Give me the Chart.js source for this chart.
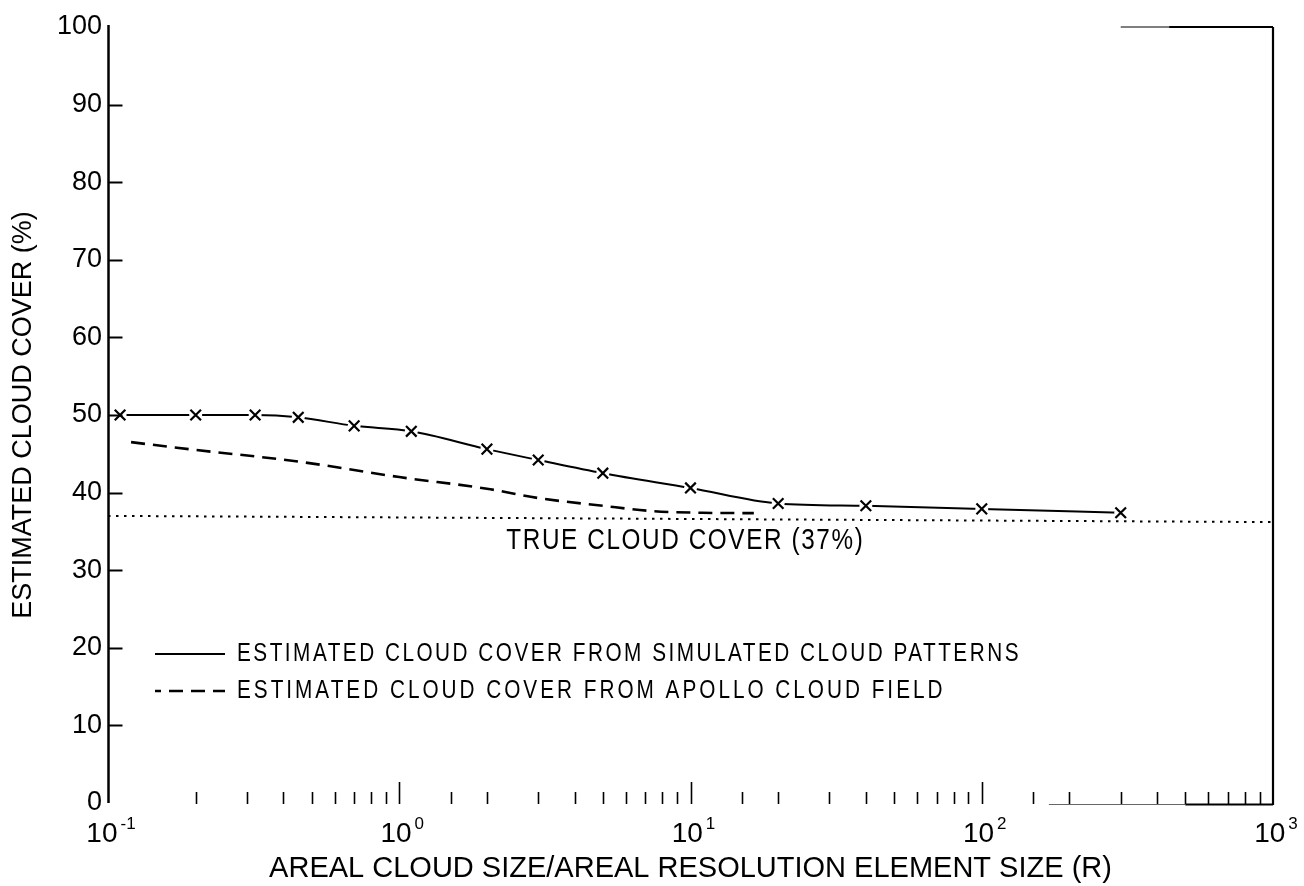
<!DOCTYPE html>
<html>
<head>
<meta charset="utf-8">
<script src="https://cdn.jsdelivr.net/npm/chart.js@4.4.1/dist/chart.umd.min.js"></script>
<style>
html,body{margin:0;padding:0;background:#fff;}
canvas{display:block;}
</style>
</head>
<body>
<canvas id="c" width="1304" height="886"></canvas>
<script>
// ---- data ----
const simX = [0.11, 0.2, 0.32, 0.45, 0.7, 1.1, 2, 3, 5, 10, 20, 40, 100, 300];
const simY = [50.0, 50.0, 50.0, 49.7, 48.6, 47.9, 45.6, 44.2, 42.5, 40.6, 38.6, 38.3, 37.9, 37.4];

const apolloX = [0.12, 0.2, 0.45, 1.0, 2.0, 3.0, 5.0, 7.5, 11, 16.5];
const apolloY = [46.5, 45.5, 44.0, 42.0, 40.5, 39.3, 38.3, 37.6, 37.4, 37.35];

const trueX = [0.1, 1000];
const trueY = [37.0, 36.2];

const xTickValues = [0.1, 1, 10, 100, 1000];
const xTickBase = '10';
const xTickExponents = ['-1', '0', '1', '2', '3'];

const simLabel = 'ESTIMATED CLOUD COVER FROM SIMULATED CLOUD PATTERNS';
const apolloLabel = 'ESTIMATED CLOUD COVER FROM APOLLO CLOUD FIELD';
const trueLabel = 'TRUE CLOUD COVER (37%)';
const xTitle = 'AREAL CLOUD SIZE/AREAL RESOLUTION ELEMENT SIZE (R)';
const yTitle = 'ESTIMATED CLOUD COVER (%)';

const FONT = "'Liberation Sans', Arial, Helvetica, sans-serif";

const pts = (xs, ys) => xs.map((x, i) => ({x: x, y: ys[i]}));

function fitText(ctx, text, x, y, width, size, spacing, fixedScale) {
  ctx.save();
  ctx.font = size + 'px ' + FONT;
  if ('letterSpacing' in ctx) ctx.letterSpacing = spacing + 'px';
  const w = ctx.measureText(text).width;
  const s = fixedScale || (width / w);
  ctx.translate(x, y);
  ctx.scale(s, 1);
  ctx.fillStyle = '#000';
  ctx.textAlign = 'left';
  ctx.textBaseline = 'middle';
  ctx.fillText(text, 0, 0);
  ctx.restore();
  return s;
}

const decor = {
  id: 'decor',
  afterDatasetsDraw(chart) {
    const ctx = chart.ctx;
    const xs = chart.scales.x, ys = chart.scales.y;
    const a = chart.chartArea;
    const L = a.left + 0.5, R = a.right, T = a.top, B = a.bottom;
    ctx.save();
    ctx.strokeStyle = '#000';
    ctx.lineCap = 'butt';

    // left axis
    ctx.lineWidth = 2.5;
    ctx.beginPath(); ctx.moveTo(L, ys.getPixelForValue(100) - 2); ctx.lineTo(L, B); ctx.stroke();
    // right axis
    ctx.lineWidth = 2.2;
    ctx.beginPath(); ctx.moveTo(R, T); ctx.lineTo(R, B + 2); ctx.stroke();
    // top partial border
    ctx.lineWidth = 1.3; ctx.strokeStyle = '#555';
    ctx.beginPath(); ctx.moveTo(xs.getPixelForValue(300), T); ctx.lineTo(xs.getPixelForValue(440), T); ctx.stroke();
    ctx.lineWidth = 2; ctx.strokeStyle = '#000';
    ctx.beginPath(); ctx.moveTo(xs.getPixelForValue(440), T); ctx.lineTo(R, T); ctx.stroke();
    // bottom partial border
    ctx.lineWidth = 1.2; ctx.strokeStyle = '#666';
    ctx.beginPath(); ctx.moveTo(xs.getPixelForValue(170), B + 1.5); ctx.lineTo(xs.getPixelForValue(500), B + 1.5); ctx.stroke();
    ctx.lineWidth = 1.8; ctx.strokeStyle = '#000';
    ctx.beginPath(); ctx.moveTo(xs.getPixelForValue(500), B + 1.5); ctx.lineTo(R, B + 1.5); ctx.stroke();

    // y inner ticks
    ctx.lineWidth = 2;
    ys.ticks.forEach(t => {
      if (t.value <= ys.min || t.value >= ys.max) return;
      const py = Math.round(ys.getPixelForValue(t.value)) + 0.5;
      ctx.beginPath(); ctx.moveTo(L, py); ctx.lineTo(L + 14, py); ctx.stroke();
    });

    // x ticks drawn upward from the base line
    ctx.lineWidth = 1.6;
    xs.ticks.forEach(t => {
      const v = t.value;
      if (v <= xs.min * 1.0001 || v >= xs.max * 0.9999) return;
      const lg = Math.log10(v);
      const major = Math.abs(lg - Math.round(lg)) < 1e-6;
      const px = Math.round(xs.getPixelForValue(v)) + 0.5;
      ctx.beginPath(); ctx.moveTo(px, B + 1); ctx.lineTo(px, B - (major ? 21 : 11)); ctx.stroke();
    });

    // x tick labels with raised exponents
    ctx.fillStyle = '#000';
    ctx.textBaseline = 'alphabetic';
    ctx.textAlign = 'left';
    xTickValues.forEach((v, i) => {
      const px = xs.getPixelForValue(v);
      ctx.font = '28px ' + FONT;
      const wb = ctx.measureText(xTickBase).width;
      ctx.font = '17px ' + FONT;
      const we = ctx.measureText(xTickExponents[i]).width;
      const total = wb + 3 + we;
      const x0 = px + 3 - total / 2;
      ctx.font = '28px ' + FONT;
      ctx.fillText(xTickBase, x0, B + 39);
      ctx.font = '17px ' + FONT;
      ctx.fillText(xTickExponents[i], x0 + wb + 3, B + 26);
    });

    // legend
    const ds = chart.data.datasets;
    const lx0 = a.left + 47, lx1 = a.left + 117, tx = a.left + 129;
    const row1 = 654, row2 = 691;
    ctx.strokeStyle = '#000';
    ctx.lineWidth = ds[2].borderWidth; ctx.setLineDash([]);
    ctx.beginPath(); ctx.moveTo(lx0, row1); ctx.lineTo(lx1, row1); ctx.stroke();
    ctx.lineWidth = ds[3].borderWidth; ctx.setLineDash(ds[3].borderDash); ctx.lineDashOffset = 8;
    ctx.beginPath(); ctx.moveTo(lx0, row2); ctx.lineTo(lx1, row2); ctx.stroke();
    ctx.setLineDash([]);
    const s = fitText(ctx, ds[2].label, tx, row1, 784, 25, 3);
    fitText(ctx, ds[3].label, tx, row2, 0, 25, 3.6, s);

    // annotation for the true cloud cover line
    const cx = xs.getPixelForValue(9.6);
    ctx.save();
    ctx.font = '30px ' + FONT;
    if ('letterSpacing' in ctx) ctx.letterSpacing = '2px';
    const w = ctx.measureText(trueLabel).width;
    const targetW = 358;
    ctx.translate(cx - targetW / 2, ys.getPixelForValue(32.7));
    ctx.scale(targetW / w, 1);
    ctx.fillStyle = '#000';
    ctx.textAlign = 'left'; ctx.textBaseline = 'alphabetic';
    ctx.fillText(trueLabel, 0, 0);
    ctx.restore();

    ctx.restore();
  }
};

new Chart(document.getElementById('c'), {
  type: 'scatter',
  data: {
    datasets: [
      { // x markers
        label: simLabel + ' markers',
        data: pts(simX, simY),
        showLine: false,
        pointStyle: 'crossRot', pointRadius: 7.5,
        pointBorderColor: '#000', pointBorderWidth: 2.2,
        order: 0
      },
      { // small white gaps around markers
        label: 'gap',
        data: pts(simX, simY),
        showLine: false,
        pointStyle: 'circle', pointRadius: 6.5,
        pointBackgroundColor: '#fff', pointBorderWidth: 0, pointBorderColor: '#fff',
        order: 1
      },
      {
        label: simLabel,
        data: pts(simX, simY),
        showLine: true,
        borderColor: '#000', borderWidth: 2,
        pointRadius: 0,
        cubicInterpolationMode: 'monotone',
        order: 2
      },
      {
        label: apolloLabel,
        data: pts(apolloX, apolloY),
        showLine: true,
        borderColor: '#000', borderWidth: 2.6,
        borderDash: [14, 8],
        pointRadius: 0,
        cubicInterpolationMode: 'monotone',
        order: 2
      },
      {
        label: trueLabel,
        data: pts(trueX, trueY),
        showLine: true,
        borderColor: '#000', borderWidth: 2,
        borderDash: [2.5, 5.5],
        pointRadius: 0,
        order: 3
      }
    ]
  },
  options: {
    responsive: false,
    animation: false,
    devicePixelRatio: 1,
    layout: { padding: { top: 27, right: 31, left: 0, bottom: 0 } },
    plugins: { legend: { display: false }, tooltip: { enabled: false } },
    scales: {
      x: {
        type: 'logarithmic', min: 0.1, max: 1000,
        border: { display: false },
        grid: { display: false, drawTicks: false },
        ticks: { display: false, autoSkip: false },
        title: { display: true, text: xTitle, color: '#000', font: { family: FONT, size: 29 }, padding: { top: 0, bottom: 0 } },
        afterFit: (s) => { s.height = 83; }
      },
      y: {
        min: 0, max: 100,
        border: { display: false },
        grid: { display: false, drawTicks: false },
        ticks: { stepSize: 10, padding: 6, color: '#000', font: { family: FONT, size: 27 } },
        title: { display: true, text: yTitle, color: '#000', font: { family: FONT, size: 27 }, padding: { top: 7, bottom: 0 } },
        afterFit: (s) => { s.width = 108; }
      }
    }
  },
  plugins: [decor]
});
</script>
</body>
</html>
